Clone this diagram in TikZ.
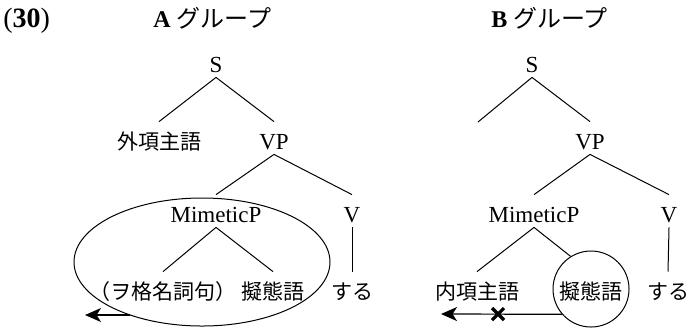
\documentclass[tikz,border=0pt]{standalone}
\usepackage{fontspec}
\setmainfont{Liberation Serif}
\newfontfamily\jp{Noto Sans CJK JP}
\usetikzlibrary{arrows.meta,shapes.geometric}
\tikzset{
  lab/.style={anchor=base, inner xsep=0pt, inner ysep=1.5pt, text height=12pt, text depth=1pt, font=\fontsize{11.5}{13}\selectfont},
  jlab/.style={lab, font=\fontsize{10.5}{13}\selectfont\jp},
  branch/.style={line width=0.5pt},
  mov/.style={line width=0.6pt, -{Stealth[length=8pt,width=7pt,inset=2.2pt]}},
  xmark/.style={line width=1.6pt},
}
\begin{document}
\begin{tikzpicture}[x=0.5pt,y=-0.5pt]
\useasboundingbox (0,0) rectangle (688,328);
% titles
\node[anchor=base west, inner sep=0pt, font=\fontsize{14}{15}\selectfont] (num) at (3,27) {(\textbf{30})};
\node[anchor=base west, inner sep=0pt, font=\fontsize{12}{14}\selectfont] (tA) at (153,27) {\textbf{A}\hspace{3pt}{\jp グループ}};
\node[anchor=base west, inner sep=0pt, font=\fontsize{12}{14}\selectfont] (tB) at (491,27) {\textbf{B}\hspace{3pt}{\jp グループ}};
% ===== Tree A =====
\node[lab]  (aS)  at (216,72)  {S};
\node[jlab] (aG)  at (159,149) {外項主語};
\node[lab]  (aVP) at (274,149) {VP};
\node[lab]  (aMP) at (216,222) {MimeticP};
\node[lab]  (aV)  at (352,222) {V};
\node[jlab] (aWo) at (163,299) {（ヲ格名詞句）};
\node[jlab] (aGi) at (273,299) {擬態語};
\node[jlab] (aSu) at (352,299) {する};
\draw[branch] (aS.south) -- (aG.north);
\draw[branch] (aS.south) -- (aVP.north);
\draw[branch] (aVP.south) -- (aMP.north);
\draw[branch] (aVP.south) -- (aV.north);
\draw[branch] (aMP.south) -- (aWo.north);
\draw[branch] (aMP.south) -- (aGi.north);
\draw[branch] (aV.south) -- (aSu.north);
\node[draw, ellipse, line width=0.5pt, minimum width=128pt, minimum height=64pt, inner sep=0pt] (ellA) at (202,262) {};
\coordinate (aStart) at (130,315);
\coordinate (aTip) at (85,315);
\draw[mov] (aStart) -- (aTip);
% ===== Tree B =====
\node[lab]  (bS)  at (532,72)  {S};
\coordinate (bL) at (478,122);
\node[lab]  (bVP) at (590,149) {VP};
\node[lab]  (bMP) at (534,222) {MimeticP};
\node[lab]  (bV)  at (669,222) {V};
\node[jlab] (bN)  at (477,299) {内項主語};
\node[jlab] (bGi) at (591,299) {擬態語};
\node[jlab] (bSu) at (668,299) {する};
\node[draw, circle, line width=0.5pt, minimum size=38pt, inner sep=0pt] (circ) at (591,289) {};
\draw[branch] (bS.south) -- (bL);
\draw[branch] (bS.south) -- (bVP.north);
\draw[branch] (bVP.south) -- (bMP.north);
\draw[branch] (bVP.south) -- (bV.north);
\draw[branch] (bMP.south) -- (bN.north);
\draw[branch] (bMP.south) -- (circ.122);
\draw[branch] (bV.south) -- (bSu.north);
\coordinate (bTip) at (441,314);
\draw[mov] (circ.221) -- (bTip);
\coordinate (xc) at (498,314);
\draw[xmark] ([shift={(-6,-6)}]xc) -- ([shift={(6,6)}]xc);
\draw[xmark] ([shift={(-6,6)}]xc) -- ([shift={(6,-6)}]xc);
\end{tikzpicture}
\end{document}
